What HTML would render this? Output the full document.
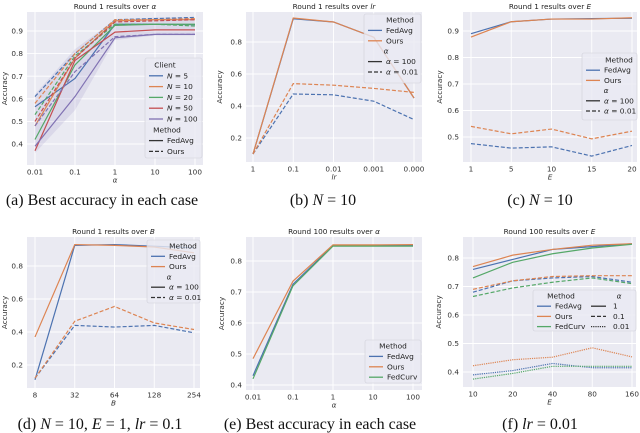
<!DOCTYPE html>
<html><head><meta charset="utf-8">
<style>
html,body{margin:0;padding:0;background:#fff;}
svg{display:block;}
.tk{font-family:"DejaVu Sans","Liberation Sans",sans-serif;font-size:7.3px;fill:#333;}
.ttl{font-family:"DejaVu Sans","Liberation Sans",sans-serif;font-size:7.3px;fill:#222;}
.cap{font-family:"Liberation Serif",serif;font-size:16px;fill:#111;}
.lg{font-family:"DejaVu Sans","Liberation Sans",sans-serif;font-size:7.4px;fill:#222;}
</style></head>
<body>
<svg id="fig" width="640" height="433" viewBox="0 0 640 433" xmlns="http://www.w3.org/2000/svg"></svg>
<script>
// ---------- data ----------
const alphaCats = ["0.01","0.1","1","10","100"];
const lrCats = ["1","0.1","0.01","0.001","0.000"];
const eCats = ["1","5","10","15","20"];
const bCats = ["8","32","64","128","254"];
const e2Cats = ["10","20","40","80","160"];

const aN5Avg = [0.565,0.69,0.93,0.93,0.928];
const aN5Ours = [0.61,0.80,0.95,0.955,0.96];
const aN10Avg = [0.48,0.78,0.945,0.95,0.95];
const aN10Ours = [0.58,0.80,0.95,0.95,0.955];
const aN20Avg = [0.42,0.75,0.925,0.93,0.93];
const aN20Ours = [0.53,0.79,0.93,0.93,0.922];
const aN50Avg = [0.37,0.77,0.895,0.905,0.905];
const aN50Ours = [0.50,0.78,0.94,0.945,0.95];
const aN100Avg = [0.39,0.61,0.87,0.885,0.885];
const aN100Ours = [0.48,0.72,0.875,0.885,0.885];
const aYTicks = [0.4,0.5,0.6,0.7,0.8,0.9];

const bAvg100 = [0.10,0.945,0.925,0.83,0.45];
const bOurs100 = [0.10,0.95,0.925,0.83,0.45];
const bAvg001 = [0.10,0.475,0.47,0.43,0.315];
const bOurs001 = [0.10,0.54,0.53,0.51,0.485];
const bYTicks = [0.2,0.4,0.6,0.8];

const cAvg100 = [0.89,0.935,0.945,0.947,0.948];
const cOurs100 = [0.877,0.935,0.945,0.945,0.95];
const cAvg001 = [0.475,0.458,0.463,0.428,0.468];
const cOurs001 = [0.54,0.512,0.53,0.493,0.522];
const cYTicks = [0.5,0.6,0.7,0.8,0.9];

const dAvg100 = [0.11,0.925,0.93,0.92,0.91];
const dOurs100 = [0.37,0.93,0.925,0.915,0.88];
const dAvg001 = [0.12,0.44,0.43,0.44,0.395];
const dOurs001 = [0.12,0.465,0.555,0.455,0.415];
const dYTicks = [0.2,0.4,0.6,0.8];

const eAvg = [0.43,0.725,0.85,0.85,0.85];
const eOurs = [0.485,0.735,0.852,0.852,0.853];
const eCurv = [0.42,0.72,0.848,0.848,0.848];
const eYTicks = [0.4,0.5,0.6,0.7,0.8];

const fAvg1 = [0.76,0.795,0.83,0.84,0.85];
const fOurs1 = [0.77,0.81,0.83,0.845,0.85];
const fCurv1 = [0.73,0.785,0.815,0.835,0.848];
const fAvg01 = [0.68,0.72,0.73,0.735,0.715];
const fOurs01 = [0.69,0.72,0.735,0.738,0.738];
const fCurv01 = [0.665,0.695,0.715,0.73,0.71];
const fAvg001 = [0.39,0.405,0.43,0.415,0.415];
const fOurs001 = [0.422,0.443,0.452,0.485,0.453];
const fCurv001 = [0.375,0.395,0.42,0.42,0.42];
const fYTicks = [0.4,0.5,0.6,0.7,0.8];

const BLUE="#4c72b0",ORANGE="#dd8452",GREEN="#55a868",RED="#c44e52",PURPLE="#8172b3";
const DASH="4,2",DOT="1.2,1";
const NS="http://www.w3.org/2000/svg";
const fig=document.getElementById('fig');

function mk(tag,attrs,parent){
  const e=document.createElementNS(NS,tag);
  for(const k in attrs) e.setAttribute(k,attrs[k]);
  (parent||fig).appendChild(e);
  return e;
}
function txt(s,x,y,cls,anchor,parent,name){
  const t=mk('text',{x:x,y:y,class:cls,'text-anchor':anchor||'middle'},parent);
  t.textContent=s;
  
  
  return t;
}

function panel(cfg){
  const g=mk('g',{});
  
  
  const bg=mk('rect',{x:cfg.x0,y:cfg.y0,width:cfg.x1-cfg.x0,height:cfg.y1-cfg.y0,fill:'#eaeaf2'},g);
  
  
  const n=cfg.cats.length;
  const xs=i=>cfg.xa+(cfg.xb-cfg.xa)*i/(n-1);
  const ys=v=>cfg.ya+(v-cfg.va)*(cfg.yb-cfg.ya)/(cfg.vb-cfg.va);
  cfg.yticks.forEach(v=>{
    const l=mk('line',{x1:cfg.x0,x2:cfg.x1,y1:ys(v),y2:ys(v),stroke:'#fff','stroke-width':0.9},g);
    
    
    txt(v.toFixed(1),cfg.x0-4,ys(v)+2.6,'tk','end',g,'y-tick-label');
  });
  cfg.cats.forEach((c,i)=>{
    const l=mk('line',{x1:xs(i),x2:xs(i),y1:cfg.y0,y2:cfg.y1,stroke:'#fff','stroke-width':0.9},g);
    
    
    txt(c,xs(i),cfg.y1+9.5,'tk','middle',g,'x-tick-label');
  });
  if(cfg.band){
    const b=cfg.band;
    let d='';
    b.lo.forEach((v,i)=>{d+=(i?'L':'M')+xs(i)+','+ys(v);});
    for(let i=b.hi.length-1;i>=0;i--) d+='L'+xs(i)+','+ys(b.hi[i]);
    const p=mk('path',{d:d+'Z',fill:b.color,opacity:0.15},g);
    
    
  }
  cfg.series.forEach(s=>{
    const pts=s.vals.map((v,i)=>xs(i).toFixed(2)+','+ys(v).toFixed(2)).join(' ');
    const a={points:pts,fill:'none',stroke:s.color,'stroke-width':1.2};
    if(s.dash) a['stroke-dasharray']=s.dash;
    const p=mk('polyline',a,g);
    
    
  });
  const tt=txt('',(cfg.x0+cfg.x1)/2,cfg.y0-3,'ttl','middle',g,'chart-title');
  tt.innerHTML=cfg.title;
  const yl=txt('Accuracy',0,0,'tk','middle',g,'y-axis-title');
  const yc=(cfg.y0+cfg.y1)/2;
  yl.setAttribute('transform','translate('+cfg.ylx+','+yc+') rotate(-90)');
  const xl=txt(cfg.xlabel,(cfg.x0+cfg.x1)/2,cfg.y1+17.5,'tk','middle',g,'x-axis-title');
  xl.setAttribute('font-style','italic');
  const cp=txt('',cfg.capx,cfg.capy,'cap','middle',g,'caption');
  cp.innerHTML=cfg.caption;
  // legend
  const L=cfg.legend;
  const lr=mk('rect',{x:L.x,y:L.y,width:L.w,height:L.h,rx:2,fill:'#eaeaf2','fill-opacity':0.8,stroke:'#cfcfd8','stroke-width':0.6},g);
  
  
  L.rows.forEach((r,i)=>{
    const yy=L.y+L.top+i*L.dy;
    if(r.head){
      const t=txt('',L.x+(r.hx||L.w/2),yy+2.5,'lg','middle',g,'legend-header');
      t.innerHTML=r.label;
    } else {
      const a={x1:L.x+4+(r.ox||0),x2:L.x+18+(r.ox||0),y1:yy,y2:yy,stroke:r.color,'stroke-width':1.3};
      if(r.dash) a['stroke-dasharray']=r.dash;
      const l=mk('line',a,g);
      
      
      const t=txt('',L.x+22+(r.ox||0),yy+2.5,'lg','start',g,'legend-entry');
      t.innerHTML=r.label;
    }
  });
  if(L.extra) L.extra(g);
}

const ita=s=>'<tspan font-style="italic">'+s+'</tspan>';
const capM=s=>'<tspan font-style="italic">'+s+'</tspan>';

panel({id:'panel-a',x0:27,x1:203,y0:12,y1:165,xa:35,xb:195,ya:31,va:0.9,yb:144,vb:0.4,
  cats:alphaCats,yticks:aYTicks,title:'Round 1 results over '+ita('α'),xlabel:'α',ylx:7,
  caption:'(a) Best accuracy in each case',capx:102,capy:205,
  band:{lo:[0.36,0.55,0.86,0.88,0.88],hi:[0.62,0.82,0.95,0.96,0.96],color:PURPLE},
  series:[
    {vals:aN5Avg,color:BLUE,name:'line-n5-fedavg'},{vals:aN5Ours,color:BLUE,dash:DASH,name:'line-n5-ours'},
    {vals:aN10Avg,color:ORANGE,name:'line-n10-fedavg'},{vals:aN10Ours,color:ORANGE,dash:DASH,name:'line-n10-ours'},
    {vals:aN20Avg,color:GREEN,name:'line-n20-fedavg'},{vals:aN20Ours,color:GREEN,dash:DASH,name:'line-n20-ours'},
    {vals:aN50Avg,color:RED,name:'line-n50-fedavg'},{vals:aN50Ours,color:RED,dash:DASH,name:'line-n50-ours'},
    {vals:aN100Avg,color:PURPLE,name:'line-n100-fedavg'},{vals:aN100Ours,color:PURPLE,dash:DASH,name:'line-n100-ours'}],
  legend:{x:145,y:58,w:57,h:100,top:7,dy:10.8,rows:[
    {head:1,label:'Client',hx:20},{color:BLUE,label:ita('N')+' = 5'},{color:ORANGE,label:ita('N')+' = 10'},
    {color:GREEN,label:ita('N')+' = 20'},{color:RED,label:ita('N')+' = 50'},{color:PURPLE,label:ita('N')+' = 100'},
    {head:1,label:'Method',hx:22},{color:'#333',label:'FedAvg'},{color:'#333',dash:DASH,label:'Ours'}]}
});

panel({id:'panel-b',x0:246,x1:422,y0:12,y1:162,xa:253,xb:414,ya:42,va:0.8,yb:138,vb:0.2,
  cats:lrCats,yticks:bYTicks,title:'Round 1 results over '+ita('lr'),xlabel:'lr',ylx:222,
  caption:'(b)  '+capM('N')+' = 10',capx:323,capy:205,
  series:[{vals:bAvg100,color:BLUE,name:'line-fedavg-alpha100'},{vals:bOurs100,color:ORANGE,name:'line-ours-alpha100'},
    {vals:bAvg001,color:BLUE,dash:DASH,name:'line-fedavg-alpha001'},{vals:bOurs001,color:ORANGE,dash:DASH,name:'line-ours-alpha001'}],
  legend:{x:364,y:14,w:57,h:69,top:6,dy:10.4,rows:[
    {head:1,label:'Method',hx:36},{color:BLUE,label:'FedAvg'},{color:ORANGE,label:'Ours'},{head:1,label:ita('α'),hx:22},
    {color:'#333',label:ita('α')+' = 100'},{color:'#333',dash:DASH,label:ita('α')+' = 0.01'}]}
});

panel({id:'panel-c',x0:463,x1:637,y0:12,y1:162,xa:471,xb:632,ya:31,va:0.9,yb:137,vb:0.5,
  cats:eCats,yticks:cYTicks,title:'Round 1 results over '+ita('E'),xlabel:'E',ylx:442,
  caption:'(c)  '+capM('N')+' = 10',capx:540,capy:205,
  series:[{vals:cAvg100,color:BLUE,name:'line-fedavg-alpha100'},{vals:cOurs100,color:ORANGE,name:'line-ours-alpha100'},
    {vals:cAvg001,color:BLUE,dash:DASH,name:'line-fedavg-alpha001'},{vals:cOurs001,color:ORANGE,dash:DASH,name:'line-ours-alpha001'}],
  legend:{x:582,y:53,w:55,h:67,top:7,dy:10.2,rows:[
    {head:1,label:'Method',hx:37},{color:BLUE,label:'FedAvg'},{color:ORANGE,label:'Ours'},{head:1,label:ita('α'),hx:24},
    {color:'#333',label:ita('α')+' = 100'},{color:'#333',dash:DASH,label:ita('α')+' = 0.01'}]}
});

panel({id:'panel-d',x0:27,x1:200,y0:237,y1:388,xa:35,xb:194,ya:266,va:0.8,yb:365,vb:0.2,
  cats:bCats,yticks:dYTicks,title:'Round 1 results over '+ita('B'),xlabel:'B',ylx:7,
  caption:'(d)  '+capM('N')+' = 10, '+capM('E')+' = 1, '+capM('lr')+' = 0.1',capx:100,capy:429,
  series:[{vals:dAvg100,color:BLUE,name:'line-fedavg-alpha100'},{vals:dOurs100,color:ORANGE,name:'line-ours-alpha100'},
    {vals:dAvg001,color:BLUE,dash:DASH,name:'line-fedavg-alpha001'},{vals:dOurs001,color:ORANGE,dash:DASH,name:'line-ours-alpha001'}],
  legend:{x:147,y:240,w:53,h:63,top:6,dy:10.3,rows:[
    {head:1,label:'Method',hx:36},{color:BLUE,label:'FedAvg'},{color:ORANGE,label:'Ours'},{head:1,label:ita('α'),hx:22},
    {color:'#333',label:ita('α')+' = 100'},{color:'#333',dash:DASH,label:ita('α')+' = 0.01'}]}
});

panel({id:'panel-e',x0:246,x1:422,y0:237,y1:390,xa:253,xb:413,ya:261,va:0.8,yb:385,vb:0.4,
  cats:alphaCats,yticks:eYTicks,title:'Round 100 results over '+ita('α'),xlabel:'α',ylx:224,
  caption:'(e) Best accuracy in each case',capx:320,capy:429,
  series:[{vals:eAvg,color:BLUE,name:'line-fedavg'},{vals:eOurs,color:ORANGE,name:'line-ours'},{vals:eCurv,color:GREEN,name:'line-fedcurv'}],
  legend:{x:365,y:340,w:56,h:43,top:6,dy:10.4,rows:[
    {head:1,label:'Method'},{color:BLUE,label:'FedAvg'},{color:ORANGE,label:'Ours'},{color:GREEN,label:'FedCurv'}]}
});

panel({id:'panel-f',x0:463,x1:636,y0:237,y1:387,xa:473,xb:632,ya:258,va:0.8,yb:372,vb:0.4,
  cats:e2Cats,yticks:fYTicks,title:'Round 100 results over '+ita('E'),xlabel:'E',ylx:441,
  caption:'(f)  '+capM('lr')+' = 0.01',capx:540,capy:429,
  series:[{vals:fAvg1,color:BLUE,name:'line-fedavg-alpha1'},{vals:fOurs1,color:ORANGE,name:'line-ours-alpha1'},{vals:fCurv1,color:GREEN,name:'line-fedcurv-alpha1'},
    {vals:fAvg01,color:BLUE,dash:DASH,name:'line-fedavg-alpha01'},{vals:fOurs01,color:ORANGE,dash:DASH,name:'line-ours-alpha01'},{vals:fCurv01,color:GREEN,dash:DASH,name:'line-fedcurv-alpha01'},
    {vals:fAvg001,color:BLUE,dash:DOT,name:'line-fedavg-alpha001'},{vals:fOurs001,color:ORANGE,dash:DOT,name:'line-ours-alpha001'},{vals:fCurv001,color:GREEN,dash:DOT,name:'line-fedcurv-alpha001'}],
  legend:{x:533,y:290,w:103,h:41,top:6,dy:10.2,rows:[
    {head:1,label:'Method',hx:28},{color:BLUE,label:'FedAvg'},{color:ORANGE,label:'Ours'},{color:GREEN,label:'FedCurv'}],
    extra:function(g){
      const X=533+58,Y=296;
      const h=txt('',X+28,Y+2.5,'lg','middle',g,'legend-header');
      h.innerHTML=ita('α');
      const rs=[['','1'],[DASH,'0.1'],[DOT,'0.01']];
      rs.forEach((r,i)=>{
        const yy=Y+10.2*(i+1);
        const a={x1:X,x2:X+15,y1:yy,y2:yy,stroke:'#333','stroke-width':1.3};
        if(r[0]) a['stroke-dasharray']=r[0];
        const l=mk('line',a,g);
        
        
        txt(r[1],X+22,yy+2.5,'lg','start',g,'legend-entry');
      });
    }}
});
</script>
</body></html>
